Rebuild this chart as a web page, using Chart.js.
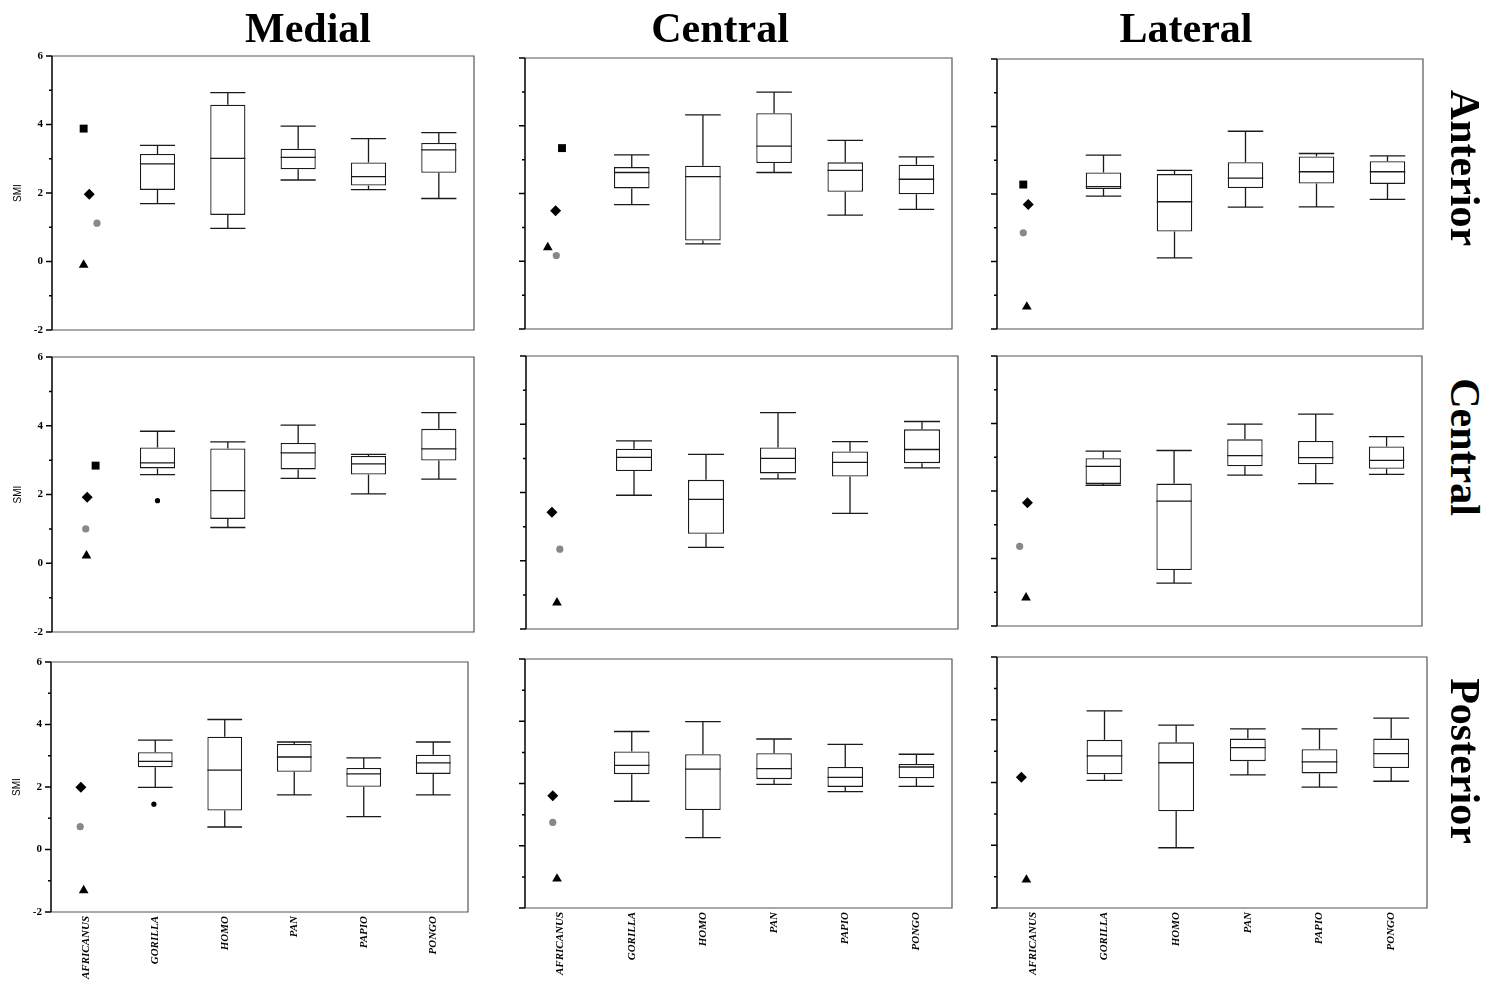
<!DOCTYPE html>
<html>
<head>
<meta charset="utf-8">
<script src="https://cdn.jsdelivr.net/npm/chart.js@4.4.0/dist/chart.umd.min.js"></script>
<style>
  body { margin: 0; width: 1489px; height: 984px; background: #fff; position: relative; overflow: hidden; }
  canvas { position: absolute; }
  .colTitle { position: absolute; font: bold 42px "Liberation Serif", serif; line-height: 42px; white-space: nowrap; transform: translateX(-50%); color: #000; }
  .rowTitle { position: absolute; font: bold 42px "Liberation Serif", serif; line-height: 42px; white-space: nowrap; transform: translate(-50%, -50%) rotate(90deg); color: #000; }
</style>
</head>
<body>
<script>
// categories and headings
const categories = ['AFRICANUS', 'GORILLA', 'HOMO', 'PAN', 'PAPIO', 'PONGO'];
const columnTitles = ['Medial', 'Central', 'Lateral'];
const rowTitles = ['Anterior', 'Central', 'Posterior'];

// box statistics, one row per panel (Anterior/Central/Posterior x Medial/Central/Lateral)
// species order: GORILLA, HOMO, PAN, PAPIO, PONGO
const whiskerLow = [
    [1.69, 0.97, 2.38, 2.10, 1.84],
    [1.67, 0.51, 2.62, 1.36, 1.53],
    [1.94, 0.11, 1.61, 1.62, 1.84],
    [2.58, 1.04, 2.47, 2.02, 2.45],
    [1.92, 0.39, 2.40, 1.39, 2.72],
    [2.17, -0.73, 2.47, 2.22, 2.49],
    [1.99, 0.72, 1.75, 1.05, 1.75],
    [1.43, 0.26, 1.97, 1.74, 1.91],
    [2.07, -0.08, 2.24, 1.85, 2.04]
];
const boxLow = [
    [2.09, 1.36, 2.69, 2.22, 2.59],
    [2.15, 0.61, 2.90, 2.05, 1.98],
    [2.15, 0.89, 2.18, 2.31, 2.30],
    [2.76, 1.29, 2.73, 2.58, 2.99],
    [2.63, 0.79, 2.56, 2.47, 2.86],
    [2.21, -0.34, 2.73, 2.79, 2.66],
    [2.63, 1.25, 2.49, 2.01, 2.42],
    [2.30, 1.15, 2.14, 1.89, 2.17],
    [2.26, 1.08, 2.68, 2.29, 2.46]
];
const medians = [
    [2.85, 3.01, 3.04, 2.48, 3.26],
    [2.62, 2.50, 3.40, 2.68, 2.42],
    [2.22, 1.77, 2.47, 2.66, 2.66],
    [2.92, 2.11, 3.21, 2.89, 3.33],
    [3.03, 1.80, 3.00, 2.88, 3.26],
    [2.73, 1.70, 3.05, 2.99, 2.91],
    [2.82, 2.54, 2.96, 2.42, 2.77],
    [2.58, 2.46, 2.48, 2.20, 2.53],
    [2.85, 2.63, 3.11, 2.66, 2.92]
];
const boxHigh = [
    [3.14, 4.58, 3.29, 2.89, 3.46],
    [2.78, 2.82, 4.37, 2.92, 2.85],
    [2.64, 2.59, 2.94, 3.11, 2.97],
    [3.37, 3.34, 3.50, 3.12, 3.91],
    [3.28, 2.37, 3.32, 3.20, 3.85],
    [2.97, 2.22, 3.53, 3.48, 3.32],
    [3.11, 3.61, 3.38, 2.61, 3.03],
    [3.03, 2.94, 2.97, 2.53, 2.63],
    [3.36, 3.28, 3.40, 3.06, 3.40]
];
const whiskerHigh = [
    [3.39, 4.93, 3.95, 3.59, 3.76],
    [3.14, 4.32, 4.99, 3.57, 3.08],
    [3.15, 2.70, 3.86, 3.20, 3.13],
    [3.84, 3.53, 4.02, 3.17, 4.38],
    [3.51, 3.12, 4.34, 3.49, 4.08],
    [3.18, 3.20, 3.98, 4.28, 3.61],
    [3.50, 4.16, 3.44, 2.93, 3.44],
    [3.67, 3.99, 3.43, 3.26, 2.94],
    [4.28, 3.83, 3.71, 3.71, 4.05]
];

// africanus specimens: value and x position (category units) per panel
const squareY  = [3.88, 3.34, 2.28, 2.84, null, null, null, null, null];
const squareX  = [-0.05, 0.02, -0.13, 0.12, 0, 0, 0, 0, 0];
const diamondY = [1.96, 1.49, 1.69, 1.92, 1.42, 1.65, 1.99, 1.61, 2.17];
const diamondX = [0.03, -0.07, -0.06, 0.0, -0.14, -0.07, -0.07, -0.11, -0.16];
const circleY  = [1.12, 0.17, 0.85, 1.00, 0.34, 0.36, 0.73, 0.75, null];
const circleX  = [0.14, -0.06, -0.13, -0.02, -0.03, -0.18, -0.08, -0.11, 0];
const triangleY = [-0.10, 0.41, -1.34, 0.22, -1.23, -1.16, -1.31, -1.06, -1.10];
const triangleX = [-0.05, -0.18, -0.08, -0.01, -0.07, -0.09, -0.03, -0.05, -0.09];
// gorilla outliers
const outlierY = [null, null, null, 1.82, null, null, 1.45, null, null];
const outlierX = [1, 1, 1, 1.0, 1, 1, 0.98, 1, 1];

// plot area of each panel on the page [left, top, right, bottom]
const panelRects = [
    [52, 56, 474, 330], [525, 58, 952, 329], [997, 59, 1423, 329],
    [52, 357, 474, 632], [526, 356, 958, 629], [997, 356, 1422, 626],
    [51, 662, 468, 912], [525, 659, 952, 908], [997, 657, 1427, 908]
];

const Y_AXIS_W = 44;
const PAD_TOP = 24;
const PAD_RIGHT = 12;

// whiskers + medians, sized from the bar elements
const boxWhiskers = {
    id: 'boxWhiskers',
    afterDatasetsDraw(chart, args, opts) {
        const p = opts.panel;
        const y = chart.scales.y;
        const ctx = chart.ctx;
        const meta = chart.getDatasetMeta(0);
        ctx.save();
        ctx.strokeStyle = '#1a1a1a';
        ctx.lineWidth = 1.3;
        meta.data.forEach((bar, j) => {
            const half = bar.width / 2;
            const x = bar.x;
            const wLo = y.getPixelForValue(whiskerLow[p][j]);
            const wHi = y.getPixelForValue(whiskerHigh[p][j]);
            const bLo = y.getPixelForValue(boxLow[p][j]);
            const bHi = y.getPixelForValue(boxHigh[p][j]);
            const med = y.getPixelForValue(medians[p][j]);
            ctx.beginPath();
            ctx.moveTo(x, bLo); ctx.lineTo(x, wLo);
            ctx.moveTo(x - half, wLo); ctx.lineTo(x + half, wLo);
            ctx.moveTo(x, bHi); ctx.lineTo(x, wHi);
            ctx.moveTo(x - half, wHi); ctx.lineTo(x + half, wHi);
            ctx.moveTo(x - half, med); ctx.lineTo(x + half, med);
            ctx.stroke();
        });
        ctx.restore();
    }
};

// frame round the plot and y ticks (long at even values)
const frame = {
    id: 'frame',
    afterDraw(chart) {
        const ctx = chart.ctx;
        const a = chart.chartArea;
        const y = chart.scales.y;
        ctx.save();
        ctx.strokeStyle = '#555';
        ctx.lineWidth = 1.2;
        ctx.beginPath();
        ctx.moveTo(a.left, a.top);
        ctx.lineTo(a.right, a.top);
        ctx.lineTo(a.right, a.bottom);
        ctx.lineTo(a.left, a.bottom);
        ctx.stroke();
        ctx.strokeStyle = '#000';
        ctx.lineWidth = 1.5;
        ctx.beginPath();
        ctx.moveTo(a.left, a.top);
        ctx.lineTo(a.left, a.bottom);
        y.ticks.forEach(t => {
            const py = y.getPixelForValue(t.value);
            const len = t.value % 2 === 0 ? 6 : 3;
            ctx.moveTo(a.left - len, py);
            ctx.lineTo(a.left, py);
        });
        ctx.stroke();
        ctx.restore();
    }
};

function markerSet(ys, xs, p, style, color, radius) {
    const pts = ys[p] === null ? [] : [{ x: xs[p], y: ys[p] }];
    return {
        type: 'scatter',
        data: pts,
        pointStyle: style,
        pointRadius: radius,
        pointBackgroundColor: color,
        pointBorderWidth: 0
    };
}

function makePanel(p) {
    const row = Math.floor(p / 3);
    const col = p % 3;
    const r = panelRects[p];
    const xh = row === 2 ? 78 : 24;
    const canvas = document.createElement('canvas');
    canvas.width = (r[2] - r[0]) + Y_AXIS_W + PAD_RIGHT;
    canvas.height = (r[3] - r[1]) + PAD_TOP + xh;
    canvas.style.left = (r[0] - Y_AXIS_W) + 'px';
    canvas.style.top = (r[1] - PAD_TOP) + 'px';
    document.body.appendChild(canvas);

    const boxes = boxLow[p].map((lo, j) => ({ x: j + 1, y: [lo, boxHigh[p][j]] }));

    new Chart(canvas, {
        type: 'bar',
        data: {
            datasets: [
                {
                    type: 'bar',
                    data: boxes,
                    backgroundColor: '#fff',
                    borderColor: '#1a1a1a',
                    borderWidth: 1.3,
                    borderSkipped: false,
                    categoryPercentage: 1,
                    barPercentage: 0.5
                },
                markerSet(squareY, squareX, p, 'rect', '#000', 5.6),
                markerSet(diamondY, diamondX, p, 'rectRot', '#000', 5.5),
                markerSet(circleY, circleX, p, 'circle', '#888', 3.6),
                markerSet(triangleY, triangleX, p, 'triangle', '#000', 5.6),
                markerSet(outlierY, outlierX, p, 'circle', '#000', 2.6)
            ]
        },
        options: {
            responsive: false,
            animation: false,
            devicePixelRatio: 1,
            events: [],
            layout: { padding: { top: PAD_TOP, right: PAD_RIGHT, left: 0, bottom: 0 } },
            plugins: {
                legend: { display: false },
                tooltip: { enabled: false },
                boxWhiskers: { panel: p }
            },
            scales: {
                x: {
                    type: 'linear',
                    offset: false,
                    min: -0.5,
                    max: 5.5,
                    afterBuildTicks: s => { s.ticks = categories.map((c, i) => ({ value: i })); },
                    afterFit: s => { s.height = xh; },
                    grid: { display: false, drawTicks: false, offset: false },
                    border: { display: false },
                    ticks: {
                        display: row === 2,
                        autoSkip: false,
                        minRotation: 90,
                        maxRotation: 90,
                        padding: 4,
                        color: '#000',
                        font: { family: '"Liberation Serif", serif', size: 11, style: 'italic', weight: 'bold' },
                        callback: v => categories[v]
                    }
                },
                y: {
                    min: -2,
                    max: 6,
                    afterFit: s => { s.width = Y_AXIS_W; },
                    grid: { display: false, drawTicks: false },
                    border: { display: false },
                    title: {
                        display: col === 0,
                        text: 'SMI',
                        color: '#000',
                        padding: { top: 4, bottom: 0 },
                        font: { family: '"Liberation Sans", sans-serif', size: 10 }
                    },
                    ticks: {
                        stepSize: 1,
                        padding: 9,
                        color: '#000',
                        font: { family: '"Liberation Serif", serif', size: 11, weight: 'bold' },
                        callback: v => (col === 0 && v % 2 === 0) ? String(v) : ''
                    }
                }
            }
        },
        plugins: [boxWhiskers, frame]
    });
}

for (let p = 0; p < 9; p++) makePanel(p);

// headings
const colCenters = [308, 720, 1186];
columnTitles.forEach((t, i) => {
    const d = document.createElement('div');
    d.className = 'colTitle';
    d.textContent = t;
    d.style.left = colCenters[i] + 'px';
    d.style.top = '7px';
    document.body.appendChild(d);
});
const rowCenters = [168, 447, 761];
rowTitles.forEach((t, i) => {
    const d = document.createElement('div');
    d.className = 'rowTitle';
    d.textContent = t;
    d.style.left = '1465px';
    d.style.top = rowCenters[i] + 'px';
    document.body.appendChild(d);
});
</script>
</body>
</html>
